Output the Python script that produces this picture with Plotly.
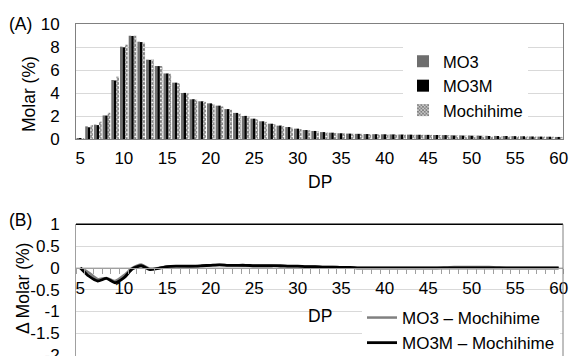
import plotly.graph_objects as go

DP = list(range(5, 61))

MO3 = [0.08, 1.10, 1.25, 2.05, 5.13, 8.03, 8.98, 8.46, 6.90, 6.35,
       5.70, 4.90, 4.00, 3.45, 3.28, 3.10, 2.90, 2.60, 2.27, 2.00,
       1.77, 1.54, 1.33, 1.16, 1.04, 0.90, 0.78, 0.70, 0.60, 0.55,
       0.50, 0.47, 0.45, 0.43, 0.42, 0.41, 0.40, 0.39, 0.38, 0.37,
       0.36, 0.35, 0.34, 0.33, 0.32, 0.31, 0.30, 0.28, 0.27, 0.26,
       0.25, 0.24, 0.22, 0.21, 0.20, 0.18]
MO3M = [0.08, 1.02, 1.21, 2.04, 5.09, 7.97, 8.96, 8.43, 6.88, 6.34,
        5.70, 4.90, 4.01, 3.46, 3.28, 3.10, 2.90, 2.60, 2.27, 2.01,
        1.77, 1.54, 1.33, 1.17, 1.04, 0.90, 0.78, 0.70, 0.60, 0.55,
        0.50, 0.47, 0.45, 0.43, 0.42, 0.41, 0.40, 0.39, 0.38, 0.37,
        0.36, 0.35, 0.34, 0.31, 0.30, 0.29, 0.28, 0.26, 0.26, 0.26,
        0.25, 0.24, 0.22, 0.21, 0.20, 0.18]
Mochihime = [0.08, 1.21, 1.51, 2.28, 5.43, 8.20, 8.98, 8.38, 6.92, 6.35,
             5.67, 4.86, 3.97, 3.42, 3.23, 3.04, 2.83, 2.54, 2.21, 1.95,
             1.72, 1.49, 1.28, 1.12, 1.00, 0.86, 0.75, 0.67, 0.58, 0.53,
             0.49, 0.46, 0.45, 0.43, 0.42, 0.41, 0.40, 0.39, 0.38, 0.37,
             0.36, 0.35, 0.34, 0.31, 0.30, 0.29, 0.28, 0.26, 0.26, 0.26,
             0.25, 0.24, 0.22, 0.21, 0.20, 0.18]

D_MO3 = [0.00, -0.11, -0.26, -0.23, -0.30, -0.17, 0.00, 0.08, -0.02, 0.00,
         0.03, 0.04, 0.03, 0.03, 0.05, 0.06, 0.07, 0.06, 0.06, 0.05,
         0.05, 0.05, 0.05, 0.04, 0.04, 0.04, 0.03, 0.03, 0.02, 0.02,
         0.01, 0.01, 0.00, 0.00, 0.00, 0.00, 0.00, 0.00, 0.00, 0.00,
         0.00, 0.00, 0.01, 0.02, 0.02, 0.02, 0.02, 0.02, 0.01, 0.00,
         0.00, 0.00, 0.00, 0.00, 0.00, 0.00]
D_MO3M = [0.00, -0.19, -0.30, -0.24, -0.34, -0.23, -0.02, 0.05, -0.04, -0.01,
          0.03, 0.04, 0.04, 0.04, 0.05, 0.06, 0.07, 0.06, 0.06, 0.06,
          0.05, 0.05, 0.05, 0.05, 0.04, 0.04, 0.03, 0.03, 0.02, 0.02,
          0.01, 0.01, 0.00, 0.00, 0.00, 0.00, 0.00, 0.00, 0.00, 0.00,
          0.00, 0.00, 0.00, 0.00, 0.00, 0.00, 0.00, 0.00, 0.00, 0.00,
          0.00, 0.00, 0.00, 0.00, 0.00, 0.00]

X_TICKS = [5, 10, 15, 20, 25, 30, 35, 40, 45, 50, 55, 60]
Y1_TICKS = [0, 2, 4, 6, 8, 10]
Y2_TICKS = [1, 0.5, 0, -0.5, -1, -1.5, -2]
Y2_LABELS = ["1", "0.5", "0", "-0.5", "-1", "-1.5", "-2"]

FONT = "Liberation Sans, Arial, sans-serif"
W, H = 570, 356

def px(x):
    return x / W

def py(y):
    return 1 - y / H

fig = go.Figure()
fig.add_trace(go.Bar(x=DP, y=MO3, name="MO3", marker=dict(color="#6e6e6e", line_width=0),
                     xaxis="x", yaxis="y"))
fig.add_trace(go.Bar(x=DP, y=MO3M, name="MO3M", marker=dict(color="#000000", line_width=0),
                     xaxis="x", yaxis="y"))
fig.add_trace(go.Bar(x=DP, y=Mochihime, name="Mochihime",
                     marker=dict(color="#ffffff", line_width=0,
                                 pattern=dict(shape="x", fgcolor="#000000", bgcolor="#ffffff",
                                              size=3, solidity=0.7)),
                     xaxis="x", yaxis="y"))

fig.add_trace(go.Scatter(x=DP, y=D_MO3, name="MO3 – Mochihime", mode="lines",
                         line=dict(color="#808080", width=2.5, shape="spline", smoothing=0.6),
                         xaxis="x2", yaxis="y2", legend="legend2"))
fig.add_trace(go.Scatter(x=DP, y=D_MO3M, name="MO3M – Mochihime", mode="lines",
                         line=dict(color="#000000", width=2.8, shape="spline", smoothing=0.6),
                         xaxis="x2", yaxis="y2", legend="legend2"))

xdom = [px(76), px(563)]
y1dom = [py(139), py(24)]
y2dom = [0.0, py(224.3)]
y2range = [-2.02, 1.0]
zero_pos = y2dom[0] + (0 - y2range[0]) / (y2range[1] - y2range[0]) * (y2dom[1] - y2dom[0])

fig.update_layout(
    width=W, height=H,
    margin=dict(l=0, r=0, t=0, b=0, autoexpand=False),
    paper_bgcolor="white", plot_bgcolor="white",
    font=dict(family=FONT, size=17, color="#000000"),
    barmode="group", bargap=0.12, bargroupgap=0.0,
    xaxis=dict(domain=xdom, anchor="y", range=[4.5, 60.5], tickvals=X_TICKS,
               showgrid=False, zeroline=False, showline=True, linecolor="#808080",
               linewidth=1, mirror=True, ticks="", automargin=False,
               ticklabelstandoff=4),
    yaxis=dict(domain=y1dom, anchor="x", range=[0, 10], tickvals=Y1_TICKS,
               showgrid=True, gridcolor="#d9d9d9", gridwidth=1, zeroline=False,
               showline=True, linecolor="#808080", linewidth=1, mirror=True, ticks="",
               ticklabelstandoff=12, automargin=False),
    xaxis2=dict(domain=xdom, anchor="free", position=zero_pos, range=[4.5, 60.5],
                tickvals=X_TICKS, showgrid=False, zeroline=False, showline=True,
                linecolor="#a0a0a0", linewidth=1, ticks="", automargin=False,
                ticklabelstandoff=5,
                minor=dict(tick0=4.5, dtick=1, ticks="outside", ticklen=5,
                           tickcolor="#a0a0a0", showgrid=False)),
    yaxis2=dict(domain=y2dom, anchor="x2", range=y2range, tickvals=Y2_TICKS,
                ticktext=Y2_LABELS, showgrid=True, gridcolor="#d9d9d9", gridwidth=1,
                zeroline=False, showline=True, linecolor="#a0a0a0", linewidth=1,
                ticks="", ticklabelstandoff=12, automargin=False,
                ticklabeloverflow="allow"),
    legend=dict(x=px(403), y=py(44), xanchor="left", yanchor="top",
                bgcolor="white", borderwidth=0, font=dict(size=16.5),
                tracegroupgap=0),
    legend2=dict(x=px(362), y=py(300), xanchor="left", yanchor="top",
                 bgcolor="white", borderwidth=0, font=dict(size=17)),
    showlegend=True,
)

# bottom panel frame
fig.add_shape(type="line", xref="x2 domain", yref="y2 domain", x0=0, x1=1, y0=1, y1=1,
              line=dict(color="#000000", width=1.5))
fig.add_shape(type="line", xref="x2 domain", yref="y2 domain", x0=1, x1=1, y0=0, y1=1,
              line=dict(color="#808080", width=1))

def label(text, x, y, angle=0):
    fig.add_annotation(text=text, x=px(x), y=py(y), xref="paper", yref="paper",
                       xanchor="center", yanchor="middle", textangle=angle,
                       showarrow=False, font=dict(size=17.5))

label("(A)", 21, 24)
label("(B)", 21, 220)
label("DP", 320, 181.5)
label("DP", 320, 316)
label("Molar (%)", 29, 94, -90)
label("Δ Molar (%)", 23, 289, -90)

fig.write_html("out.html", config={"displayModeBar": False},
               post_script="document.body.style.margin='0px';")
